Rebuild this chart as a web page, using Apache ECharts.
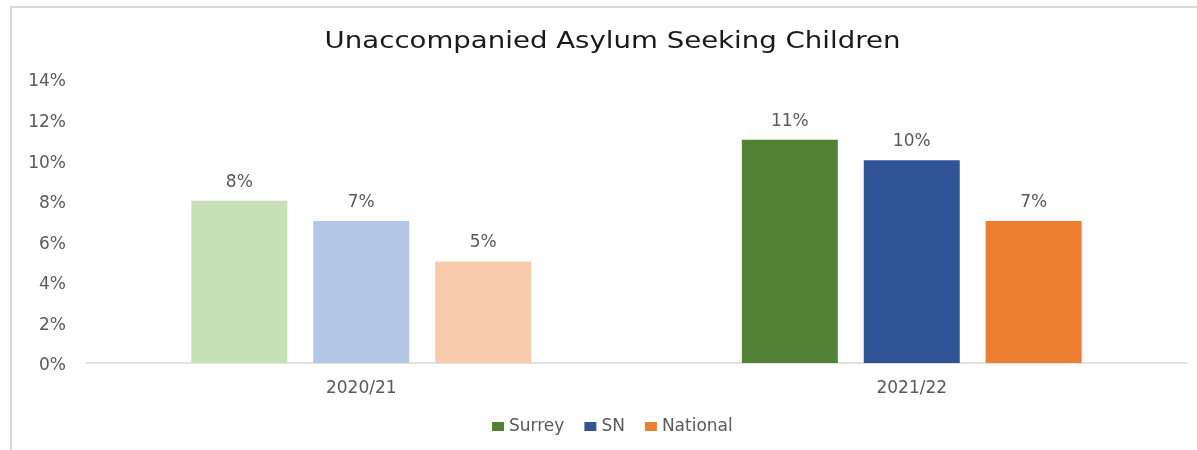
<!DOCTYPE html>
<html>
<head>
<meta charset="utf-8">
<script src="https://cdn.jsdelivr.net/npm/echarts@6/dist/echarts.min.js"></script>
<style>
html,body{margin:0;padding:0;background:#fff;}
#chart{width:1197px;height:450px;}
</style>
</head>
<body>
<div id="chart"></div>
<script>
const categories = ['2020/21', '2021/22'];
const seriesNames = ['Surrey', 'SN', 'National'];
const surrey = [8, 11];
const sn = [7, 10];
const national = [5, 7];
const yTicks = [0, 2, 4, 6, 8, 10, 12, 14];
const titleText = 'Unaccompanied Asylum Seeking Children';

const darkColors = ['#548235', '#2F5597', '#ED7D31'];
const lightColors = ['#C5E0B4', '#B4C7E7', '#F8CBAD'];
const values = [surrey, sn, national];
const font = 'DejaVu Sans, sans-serif';

const chart = echarts.init(document.getElementById('chart'));
chart.setOption({
  animation: false,
  backgroundColor: '#fff',
  graphic: [{
    type: 'rect', shape: { x: 11, y: 7, width: 1200, height: 460 },
    style: { fill: 'none', stroke: '#d9d9d9', lineWidth: 2 }, silent: true
  }, {
    type: 'text', x: 612.5, y: 42, scaleX: 1.2,
    style: { text: titleText, font: '23px DejaVu Sans, sans-serif', fill: '#1a1a1a',
      textAlign: 'center', textVerticalAlign: 'middle', verticalAlign: 'middle' },
    silent: true
  }],
  legend: {
    data: seriesNames, top: 413, left: 487,
    itemWidth: 12, itemHeight: 9, itemGap: 20, icon: 'rect',
    textStyle: { fontFamily: font, fontSize: 17, color: '#595959' }
  },
  grid: { left: 86, right: 10, top: 79, bottom: 87 },
  xAxis: {
    type: 'category', data: categories,
    axisLine: { lineStyle: { color: '#d9d9d9', width: 1.5 } },
    axisTick: { show: false },
    axisLabel: { fontFamily: font, fontSize: 17, color: '#595959', margin: 17 }
  },
  yAxis: {
    type: 'value', min: yTicks[0], max: yTicks[yTicks.length - 1], interval: 2,
    splitLine: { show: false },
    axisLine: { show: false }, axisTick: { show: false },
    axisLabel: { fontFamily: font, fontSize: 17, color: '#595959', margin: 20,
      verticalAlign: 'top', lineHeight: 6, formatter: v => v + '%' }
  },
  series: seriesNames.map((name, i) => ({
    name, type: 'bar',
    barWidth: 96, barGap: '27%',
    itemStyle: { color: darkColors[i] },
    data: values[i].map((v, j) => j === 0 ? { value: v, itemStyle: { color: lightColors[i] } } : v),
    label: { show: true, position: 'top', distance: 10, fontFamily: font, fontSize: 17,
      color: '#595959', formatter: p => p.value + '%' }
  }))
});
</script>
</body>
</html>
